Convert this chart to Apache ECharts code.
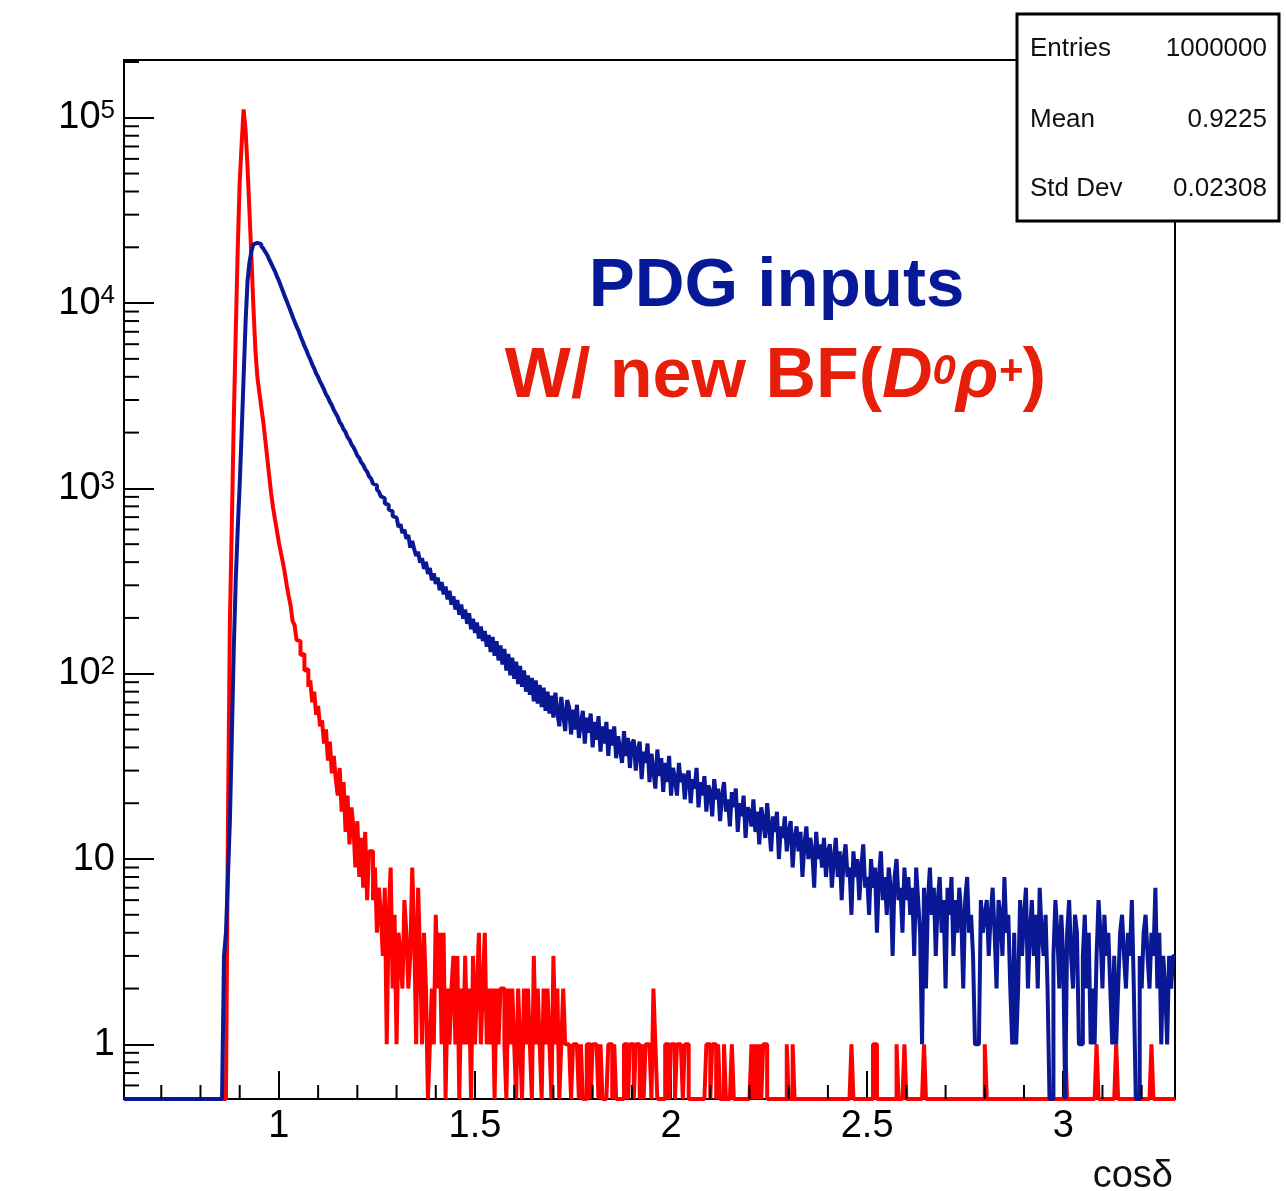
<!DOCTYPE html>
<html><head><meta charset="utf-8">
<script src="https://cdn.jsdelivr.net/npm/echarts@6/dist/echarts.min.js"></script>
<style>html,body{margin:0;padding:0;background:#fff}#c{width:1286px;height:1191px}</style>
</head><body><div id="c"></div>
<script>
// ---- axis ranges / binning ----
const binLo = 0.605, binHi = 3.285, binW = 0.005;
const xMin = 0.605, xMax = 3.285, yMin = 0.507, yMax = 205000;
const xMajorTicks = [1, 1.5, 2, 2.5, 3];
const xMinorTicks = [0.7,0.8,0.9,1.1,1.2,1.3,1.4,1.6,1.7,1.8,1.9,2.1,2.2,2.3,2.4,2.6,2.7,2.8,2.9,3.1,3.2];
const yMinorTicks = [0.6,0.7,0.8,0.9,2,3,4,5,6,7,8,9,20,30,40,50,60,70,80,90,200,300,400,500,600,700,800,900,
  2000,3000,4000,5000,6000,7000,8000,9000,20000,30000,40000,50000,60000,70000,80000,90000,200000];

// ---- stats box ----
const statsLabels = ['Entries', 'Mean', 'Std Dev'];
const statsValues = ['1000000', '0.9225', '0.02308'];

// ---- PDG inputs (blue) histogram: segments of bin contents, each with its first bin's low edge ----
const blueStarts = [0.860, 1.100, 1.525, 1.700, 1.855, 2.005, 2.205, 2.405, 2.605, 2.805, 3.005];
const blueA = [3,4,8,16,46,138,322,605,1048,1990,3980,7870,13150,16620,19050,20760,21120,20990,20810,20280,
  19720,18940,18230,17280,16420,15570,14830,13940,13210,12380,11620,10870,10250,9600,9040,8450,7960,7480,7100,6630,
  6260,5870,5580,5230,4970,4660,4440,4170];
const blueB = [3990,3770,3600,3420,3220,3100,2930,2810,2650,2540, 2430,2280,2200,2080,2010,1890,1830,1730,1670,1590,
  1500,1460,1380,1340,1270,1230,1160,1130,1060,1040, 985,960,905,885,830,815,770,752,708,696,
  680,618,640,575,598,535,560,478,520,470, 432,455,398,420,368,402,345,372,320,348,
  305,330,282,312,268,295,252,280,236,262, 222,250,208,236,198,222,186,212,174,198, 166,189,155,180,150];
const blueC = [170,140,162,131,158,125,150,118,142,112, 136,104,128,98,122,94,116,88,110,85,
  104,80,98,77,95,71,92,69,87,66, 84,63,80,61,76];
const blueD = [58,79,62,52,75,60,49,72,66,47, 64,50,68,45,54,63,42,58,48,61, 40,55,44,59,38,52,42,55,36,50, 41];
const blueE = [52,35,46,39,33,49,36,45,31,42, 44,30,39,43,27,38,33,42,26,37, 30,24,39,28,35,23,33,26,36,22];
const blueF = [31,27,22,33,26,29,21,28,30,20, 27,24,31,19,26,22,28,18,25,23, 17,27,21,24,16,22,26,18,21,15,
  23,19,24,14,20,17,22,13,19,18];
const blueG = [15,21,14,18,12,19,16,13,20,15, 11,17,14,18,10,15,13,17,11,14, 16,9,13,15,11,14,8,12,15,10,
  13,11,7,14,10,12,9,13,8,11];
const blueH = [12,7,10,13,8,11,6,10,12,8, 9,5,11,8,10,6,9,12,7,8, 5,10,7,9,4,8,11,6,8,5, 9,7,3,8,10,6,7,4,9,6];
const blueI = [8,5,7,3,9,6,4,1,7,2, 6,9,5,7,3,6,8,4,6,2, 7,5,8,3,6,4,7,5,2,6, 8,4,5,3,1,1,1,6,4,5];
const blueJ = [6,3,5,7,4,2,6,5,3,8, 4,5,2,1,4,1,2,6,3,5, 7,2,4,6,3,5,2,7,4,3, 5,2,0,0,3,6,4,2,5,3];
const blueK = [0,4,6,3,2,5,4,1,1,3, 5,2,4,1,2,1,3,6,4,2, 5,3,4,2,1,3,1,2,4,5, 3,2,4,3,6,2,0,0,3,2,
  4,5,3,2,4,3,7,2,4,1, 3,2,1,3,2,3];

// ---- W/ new BF (red) histogram ----
const redStarts = [0.870, 1.235, 1.390, 1.735];
const redA = [15,190,650,2400,7000,19500,45000,72000,111000,86000, 54000,31000,17500,9500,5600,4000,3300,2750,2300,1850,
  1480,1180,950,790,680,590,510,450,400,350, 300,262,
  232,192,183,152,150,126,128,104,106,85, 92,70,80,60,67,52,56,42,50,34,
  43,29,36,27,22,31,18,26,14,22, 12,19,15,9,16,8,13,7,14,6, 11];
const redB = [11,6,9,4,7,5,3,7,1,5, 9,2,5,1,4,3,2,6,4,2, 3,9,4,1,7,3,1,4,2,0, 1];
const redC = [2,1,5,2,4,1,4,0,2,1, 2,3,1,3,0,2,1,3,1,2, 0,3,1,2,4,1,2,4,1,2, 1,2,0,2,1,2,2,1,0,2,
  1,2,1,0,2,1,0,2,1,2, 1,0,3,1,2,1,0,2,1,2, 1,0,3,1,2,0,1,2,1];
const redD = [1,1,0,1,1,1,0,1,0,0, 1,1,0,1,1,1,0,1,0,0, 0,1,1,0,1,0,0,0,0,1, 1,0,1,1,0,1,1,0,1,0,
  1,1,1,0,2,1,0,0,0,0, 1,1,0,1,1,0,1,1,1,0, 1,1,0,0,0,0,0,0,0,0, 0,1,1,0,1,1,0,1];
const redSingles = [2.135,2.155,2.205,2.215,2.225,2.235,2.240,2.295,2.310,2.460,2.515,2.520,2.575,2.595,2.645,2.800,3.005,3.085,3.135,3.225];

// ---- build ----
const nBins = Math.round((binHi - binLo) / binW);
function buildCounts(starts, segs, singles) {
  const c = new Array(nBins).fill(0);
  segs.forEach((s, j) => {
    const i0 = Math.round((starts[j] - binLo) / binW);
    s.forEach((v, k) => { if (i0 + k < nBins) c[i0 + k] = v; });
  });
  (singles || []).forEach(x => { c[Math.round((x - binLo) / binW)] = 1; });
  return c;
}
function stepData(c) {
  const d = [];
  for (let i = 0; i < nBins; i++) d.push([+(binLo + i * binW).toFixed(4), c[i] > 0 ? c[i] : yMin]);
  d.push([binHi, c[nBins - 1] > 0 ? c[nBins - 1] : yMin]);
  return d;
}
const blueCounts = buildCounts(blueStarts, [blueA,blueB,blueC,blueD,blueE,blueF,blueG,blueH,blueI,blueJ,blueK]);
const redCounts = buildCounts(redStarts, [redA,redB,redC,redD], redSingles);

const FONT = "'Liberation Sans', Arial, Helvetica, sans-serif";
const chart = echarts.init(document.getElementById('c'), null, {renderer: 'canvas'});

const statsGraphics = [{
  type: 'rect', shape: {x: 1017, y: 14, width: 262, height: 207},
  style: {fill: '#fff', stroke: '#000', lineWidth: 3}, z: 100
}];
const rowY = [49, 120, 188.5];
statsLabels.forEach((t, i) => {
  statsGraphics.push({type: 'text', z: 101, style: {text: t, x: 1030, y: rowY[i], font: '26px ' + FONT, fill: '#111', align: 'left', verticalAlign: 'middle'}});
  statsGraphics.push({type: 'text', z: 101, style: {text: statsValues[i], x: 1267, y: rowY[i], font: '26px ' + FONT, fill: '#111', align: 'right', verticalAlign: 'middle'}});
});

chart.setOption({
  animation: false,
  backgroundColor: '#fff',
  grid: {left: 124, top: 60, right: 111, bottom: 92, show: true, borderColor: '#000', borderWidth: 2, backgroundColor: 'transparent'},
  xAxis: {
    type: 'value', min: xMin, max: xMax,
    axisLine: {show: true, onZero: false, lineStyle: {color: '#000', width: 2}},
    axisTick: {show: true, inside: true, length: 28, customValues: xMajorTicks, lineStyle: {color: '#000', width: 2}},
    axisLabel: {customValues: xMajorTicks, color: '#000', fontSize: 38, fontFamily: FONT, margin: 9, formatter: v => String(v)},
    splitLine: {show: false}
  },
  yAxis: {
    type: 'log', logBase: 10, min: yMin, max: yMax,
    axisLine: {show: true, lineStyle: {color: '#000', width: 2}},
    axisTick: {show: true, inside: true, length: 30, lineStyle: {color: '#000', width: 2}},
    axisLabel: {
      color: '#000', fontSize: 38, fontFamily: FONT, margin: 9, lineHeight: 40,
      formatter: function (v) {
        const l = Math.log10(v), k = Math.round(l);
        if (Math.abs(l - k) > 1e-6) return '';
        if (k === 0) return '1';
        if (k === 1) return '10';
        return '10{s|' + k + '}';
      },
      rich: {s: {fontSize: 26, fontFamily: FONT, color: '#000', verticalAlign: 'top', lineHeight: 24}}
    },
    splitLine: {show: false}
  },
  series: [
    {type: 'line', name: 'W/ new BF', data: stepData(redCounts), step: 'end', symbol: 'none', clip: false,
     lineStyle: {color: '#ff0000', width: 4}, z: 2, silent: true},
    {type: 'line', name: 'PDG inputs', data: stepData(blueCounts), step: 'end', symbol: 'none', clip: false,
     lineStyle: {color: '#0a1896', width: 4}, z: 3, silent: true},
    {type: 'custom', name: 'yMinor', data: yMinorTicks.map(v => [xMin, v]), clip: false, z: 4, silent: true,
     renderItem: function (params, api) {
       const p = api.coord([api.value(0), api.value(1)]);
       return {type: 'line', shape: {x1: p[0], y1: p[1], x2: p[0] + 15, y2: p[1]}, style: {stroke: '#000', lineWidth: 2}};
     }},
    {type: 'custom', name: 'xMinor', data: xMinorTicks.map(v => [v, yMin]), clip: false, z: 4, silent: true,
     renderItem: function (params, api) {
       const p = api.coord([api.value(0), api.value(1)]);
       return {type: 'line', shape: {x1: p[0], y1: p[1], x2: p[0], y2: p[1] - 14}, style: {stroke: '#000', lineWidth: 2}};
     }}
  ],
  graphic: [
    {type: 'text', z: 50, style: {text: 'PDG inputs', x: 776.5, y: 286.5, font: 'bold 69px ' + FONT, fill: '#061996', align: 'center', verticalAlign: 'middle'}},
    {type: 'text', z: 50, style: {
      text: '{n|W/ new BF(}{i|D}{s|0}{i|ρ}{s|+}{n|)}', x: 775.5, y: 377.5, align: 'center', verticalAlign: 'middle',
      rich: {
        n: {font: 'bold 70px ' + FONT, fill: '#e61e0a', lineHeight: 80},
        i: {font: 'italic bold 70px ' + FONT, fill: '#e61e0a', lineHeight: 80},
        s: {font: 'italic bold 42px ' + FONT, fill: '#e61e0a', lineHeight: 42, verticalAlign: 'top', padding: [14, 0, 0, 0]}
      }
    }},
    {type: 'text', z: 50, style: {text: 'cosδ', x: 1173, y: 1177, font: '38px ' + FONT, fill: '#111', align: 'right', verticalAlign: 'middle'}}
  ].concat(statsGraphics)
});
</script>
</body></html>
